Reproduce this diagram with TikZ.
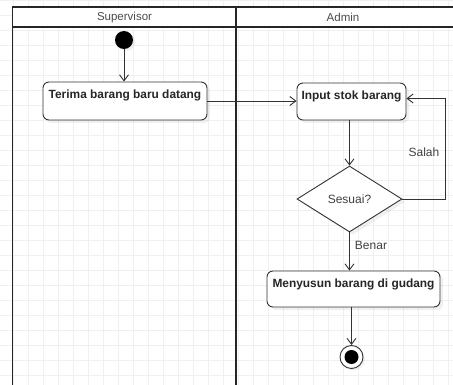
\documentclass[tikz,border=0pt]{standalone}
\usepackage{fontspec}
\setmainfont{Liberation Sans}
\usetikzlibrary{arrows.meta,shapes.geometric,shadows}
\tikzset{
    gridline/.style={draw=gray!12, line width=0.6pt},
    lane/.style={draw=black!85, line width=1.4pt},
    act/.style={draw=black!80, line width=0.9pt, rounded corners=6pt, fill=white,
        font=\fontsize{11.9}{14}\selectfont\bfseries, text=black!85,
        inner sep=3pt, text height=13.3pt,
        drop shadow={opacity=0.12, shadow xshift=3pt, shadow yshift=-3pt}},
    choice/.style={draw=black!80, line width=0.9pt, diamond, fill=white, inner sep=0pt,
        font=\fontsize{12}{14}\selectfont, text=black!75,
        drop shadow={opacity=0.12, shadow xshift=3pt, shadow yshift=-3pt}},
    flow/.style={draw=black!80, line width=0.9pt, -{Straight Barb[length=6pt,width=9pt]}},
    guard/.style={font=\fontsize{12}{14}\selectfont, text=black!75, inner sep=0pt},
    head/.style={font=\fontsize{11.5}{14}\selectfont, text=black!70, inner sep=0pt}
}
\begin{document}
\begin{tikzpicture}[x=1pt, y=-1pt]
    \useasboundingbox (0,0) rectangle (453,385);
    \clip (0,0) rectangle (453,385);

    % grid
    \foreach \gx in {13,28,...,453} \draw[gridline] (\gx,0) -- (\gx,385);
    \foreach \gy in {0,15,...,385} \draw[gridline] (0,\gy) -- (453,\gy);

    % swimlanes
    \fill[white] (12.5,7) rectangle (470,27);
    \draw[lane] (12.5,400) -- (12.5,7) -- (470,7);
    \draw[lane] (12.5,27) -- (470,27);
    \draw[lane] (236,7) -- (236,400);
    \node[head] (supervisor) at (124.5,17.5) {Supervisor};
    \node[head] (admin) at (343,17.5) {Admin};

    % start
    \node[circle, fill=black, minimum size=18pt, inner sep=0pt,
        drop shadow={opacity=0.12, shadow xshift=2pt, shadow yshift=-2pt}] (start) at (124,40) {};

    % activities
    \node[act, minimum width=164pt, minimum height=38pt, text depth=18.7pt] (terima) at (125,101) {Terima barang baru datang};
    \node[act, minimum width=109pt, minimum height=37pt, text depth=17.7pt] (input) at (351.5,101.5) {Input stok barang};
    \node[choice, minimum width=105pt, minimum height=66pt] (sesuai) at (349.5,199) {Sesuai?};
    \node[act, minimum width=173pt, minimum height=36pt, text depth=16.7pt] (susun) at (353.5,289) {Menyusun barang di gudang};

    % end
    \node[circle, draw=black!80, line width=0.9pt, fill=white, minimum size=23pt, inner sep=0pt,
        drop shadow={opacity=0.12, shadow xshift=2pt, shadow yshift=-2pt}] (stop) at (351.5,357) {};
    \node[circle, fill=black, minimum size=14pt, inner sep=0pt] (stopdot) at (stop) {};

    % flows
    \draw[flow] (start) -- (start |- terima.north);
    \draw[flow] (terima.east) -- (input.west |- terima.east);
    \draw[flow] (sesuai.north |- input.south) -- (sesuai.north);
    \draw[flow] (sesuai.east) -- ++(43,0) |- ([yshift=3pt]input.east);
    \draw[flow] (sesuai.south) -- (sesuai.south |- susun.north);
    \draw[flow] (stop |- susun.south) -- (stop.north);

    % guards
    \node[guard] (salah) at (424,152) {Salah};
    \node[guard] (benar) at (371,245) {Benar};
\end{tikzpicture}
\end{document}
